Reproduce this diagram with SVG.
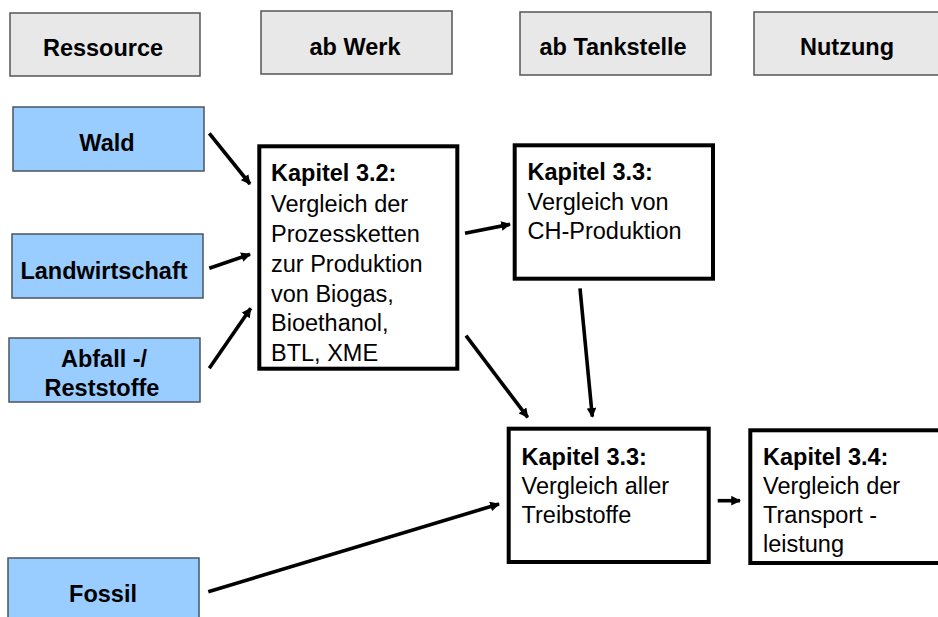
<svg xmlns="http://www.w3.org/2000/svg" width="938" height="617" viewBox="0 0 938 617">
  <style>
    text { font-family: "Liberation Sans", Arial, sans-serif; font-size: 23.5px; fill: #000; }
    .b { font-weight: bold; }
    .c { text-anchor: middle; }
    .stage { fill: #e8e8e8; stroke: #555; stroke-width: 1.5; }
    .src { fill: #99ccff; stroke: #4a5560; stroke-width: 1.5; }
    .chap { fill: #fff; stroke: #000; stroke-width: 4; }
    .edge { stroke: #000; stroke-width: 3.6; fill: none; marker-end: url(#arrow); }
  </style>
  <defs>
    <marker id="arrow" viewBox="0 0 10 10" refX="9" refY="5" markerWidth="2.8" markerHeight="2.7" orient="auto" markerUnits="strokeWidth">
      <path d="M0,0 L10,5 L0,10 z" fill="#000"/>
    </marker>
  </defs>

  <rect width="938" height="617" fill="#fff"/>

  <!-- stage headers -->
  <g id="hdr-ressource"><rect class="stage" x="10" y="13" width="190" height="63"/><text class="b c" x="103" y="56">Ressource</text></g>
  <g id="hdr-werk"><rect class="stage" x="261" y="11" width="191" height="63"/><text class="b c" x="355" y="55">ab Werk</text></g>
  <g id="hdr-tankstelle"><rect class="stage" x="520" y="12" width="191" height="63"/><text class="b c" x="613" y="55">ab Tankstelle</text></g>
  <g id="hdr-nutzung"><rect class="stage" x="754" y="12" width="195" height="63"/><text class="b c" x="847" y="55">Nutzung</text></g>

  <!-- resource sources -->
  <g id="wald"><rect class="src" x="13" y="107" width="191" height="64"/><text class="b c" x="107" y="151">Wald</text></g>
  <g id="landwirtschaft"><rect class="src" x="12" y="234" width="191" height="64"/><text class="b c" x="104" y="279">Landwirtschaft</text></g>
  <g id="abfall"><rect class="src" x="9" y="338" width="191" height="64"/><text class="b c" x="104" y="367">Abfall -/</text><text class="b c" x="102" y="396">Reststoffe</text></g>
  <g id="fossil"><rect class="src" x="8" y="558" width="191" height="70"/><text class="b c" x="103" y="602">Fossil</text></g>

  <!-- chapter boxes -->
  <g id="kap32">
    <rect class="chap" x="259.3" y="146.3" width="198" height="222.4"/>
    <text x="271" y="181"><tspan class="b">Kapitel 3.2:</tspan>
      <tspan x="271" dy="30.5">Vergleich der</tspan>
      <tspan x="271" dy="30">Prozessketten</tspan>
      <tspan x="271" dy="30">zur Produktion</tspan>
      <tspan x="271" dy="30">von Biogas,</tspan>
      <tspan x="271" dy="29.5">Bioethanol,</tspan>
      <tspan x="271" dy="29.5">BTL, XME</tspan></text>
  </g>
  <g id="kap33a">
    <rect class="chap" x="514.7" y="145.3" width="198.3" height="133.4"/>
    <text x="527.5" y="180"><tspan class="b">Kapitel 3.3:</tspan>
      <tspan x="527.5" dy="30">Vergleich von</tspan>
      <tspan x="527.5" dy="29">CH-Produktion</tspan></text>
  </g>
  <g id="kap33b">
    <rect class="chap" x="508.7" y="428.7" width="200" height="133.3"/>
    <text x="521.5" y="465"><tspan class="b">Kapitel 3.3:</tspan>
      <tspan x="521.5" dy="29">Vergleich aller</tspan>
      <tspan x="521.5" dy="29">Treibstoffe</tspan></text>
  </g>
  <g id="kap34">
    <rect class="chap" x="750.3" y="430.3" width="200" height="132.7"/>
    <text x="763" y="465"><tspan class="b">Kapitel 3.4:</tspan>
      <tspan x="763" dy="29">Vergleich der</tspan>
      <tspan x="763" dy="29">Transport -</tspan>
      <tspan x="763" dy="29">leistung</tspan></text>
  </g>

  <!-- connectors -->
  <g id="edges">
    <line class="edge" x1="209.3" y1="133.3" x2="250" y2="184"/>
    <line class="edge" x1="209.3" y1="268.3" x2="250" y2="254.3"/>
    <line class="edge" x1="209.3" y1="368.3" x2="250.7" y2="308.3"/>
    <line class="edge" x1="465" y1="233.3" x2="510" y2="224.3"/>
    <line class="edge" x1="466" y1="335.7" x2="527.7" y2="417.3"/>
    <line class="edge" x1="580" y1="288.3" x2="592.3" y2="416.7"/>
    <line class="edge" x1="208.3" y1="591.7" x2="499" y2="504"/>
    <line class="edge" x1="717.7" y1="500.7" x2="740" y2="500.7"/>
  </g>
</svg>
